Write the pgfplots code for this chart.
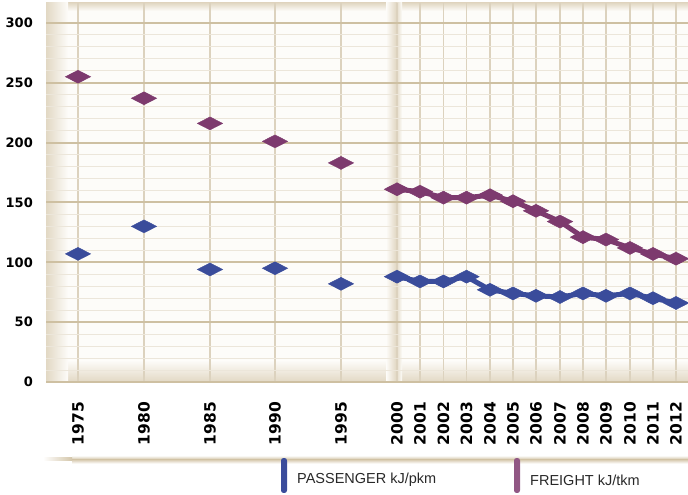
\documentclass[border=0pt]{standalone}
\usepackage{pgfplots}
\pgfplotsset{compat=1.18}
\usepackage{fontspec}
\setmainfont{Liberation Sans}
\newfontfamily\tickfont{DejaVu Sans}
\definecolor{freight}{RGB}{125,58,110}
\definecolor{pass}{RGB}{58,76,155}
\definecolor{gridmaj}{RGB}{206,192,162}
\definecolor{gridmin}{RGB}{236,230,218}
\definecolor{gridv}{RGB}{220,210,190}
\definecolor{bg}{RGB}{253,252,249}
\definecolor{edge}{RGB}{226,216,196}
\definecolor{bandline}{RGB}{212,198,170}
\definecolor{legtext}{RGB}{40,40,40}
\begin{document}
\begin{tikzpicture}
\begin{axis}[
  set layers,
  clip=false,
  scale only axis,
  width=642bp, height=379bp,
  xmin=46, xmax=688,
  ymin=0, ymax=316.6,
  axis line style={draw=none},
  major tick length=0pt, minor tick length=0pt,
  xtick={78,144,210,275,341,397,420,443.5,466.5,490,513,536,560,583,606,630,653,676},
  xticklabels={1975,1980,1985,1990,1995,2000,2001,2002,2003,2004,2005,2006,2007,2008,2009,2010,2011,2012},
  ytick={0,50,...,300},
  minor y tick num=4,
  xmajorgrids, ymajorgrids, yminorgrids,
  major x grid style={gridv, line width=1.3bp},
  major y grid style={gridmaj, line width=2bp},
  minor y grid style={gridmin, line width=1bp},
  /pgf/number format/assume math mode=true,
  xticklabel style={font=\tickfont\bfseries\fontsize{15.5bp}{17bp}\selectfont, yshift=-20bp, rotate=90, anchor=east, inner sep=0pt},
  yticklabel style={font=\tickfont\bfseries\fontsize{13bp}{15bp}\selectfont, anchor=east, inner sep=0pt, xshift=-13bp},
]
\begin{pgfonlayer}{axis background}
  \fill[bg] (axis cs:46,0) rectangle (axis cs:688,316.6);
  \shade[top color=bg, bottom color=edge] (axis cs:46,0) rectangle (axis cs:688,18);
  \shade[top color=edge, bottom color=bg] (axis cs:46,310) rectangle (axis cs:688,316.6);
  \shade[left color=edge, right color=bg] (axis cs:46,0) rectangle (axis cs:68,316.6);
  \shade[left color=bg, right color=edge] (axis cs:386,0) rectangle (axis cs:396,316.6);
  \shade[left color=edge, right color=bg] (axis cs:396,0) rectangle (axis cs:402,316.6);
\end{pgfonlayer}

% freight
\addplot[only marks, mark=diamond*, mark size=6.5bp, mark options={xscale=2.6, fill=freight, draw=freight}]
  coordinates {(78,255) (144,237) (210,216) (275,201) (341,183)};
\addplot[freight, line width=5bp, mark=diamond*, mark size=6.5bp, mark options={xscale=2.6, fill=freight, draw=freight, line width=0.5bp}]
  coordinates {(397,161) (420,159) (443.5,154) (466.5,154) (490,156) (513,151) (536,143) (560,134) (583,121) (606,119) (630,112) (653,107) (676,103)};
% passenger
\addplot[only marks, mark=diamond*, mark size=6.5bp, mark options={xscale=2.6, fill=pass, draw=pass}]
  coordinates {(78,107) (144,130) (210,94) (275,95) (341,82)};
\addplot[pass, line width=5bp, mark=diamond*, mark size=6.5bp, mark options={xscale=2.6, fill=pass, draw=pass, line width=0.5bp}]
  coordinates {(397,88) (420,84) (443.5,84) (466.5,88) (490,77) (513,74) (536,72) (560,71) (583,74) (606,72) (630,74) (653,70) (676,66)};

% legend band
\shade[top color=white, bottom color=bandline] (axis cs:72,-61.4) rectangle (axis cs:688,-64.6);
\shade[top color=bandline, bottom color=white] (axis cs:72,-64.6) rectangle (axis cs:688,-68.2);
\shade[left color=white, right color=bandline] (axis cs:43,-63.4) rectangle (axis cs:72,-65.8);
\fill[pass, rounded corners=2.5bp] (axis cs:281,-63.5) rectangle (axis cs:287,-92.7);
\fill[freight!85!white, rounded corners=2.5bp] (axis cs:514,-63.5) rectangle (axis cs:520,-92.7);
\node[anchor=west, inner sep=0pt, text=legtext, font=\fontsize{14.5bp}{17bp}\selectfont] at (axis cs:297,-81.9) {PASSENGER kJ/pkm};
\node[anchor=west, inner sep=0pt, text=legtext, font=\fontsize{14.5bp}{17bp}\selectfont] at (axis cs:530,-81.9) {FREIGHT kJ/tkm};

\coordinate (bl) at (axis cs:0,-94.4);
\coordinate (tr) at (axis cs:688,319.1);
\end{axis}
\pgfresetboundingbox
\path[use as bounding box] (bl) rectangle (tr);
\end{tikzpicture}
\end{document}
